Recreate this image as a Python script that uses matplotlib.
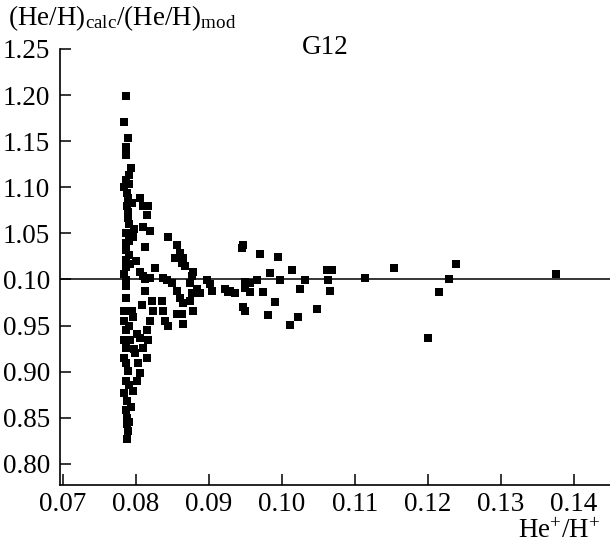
import matplotlib
matplotlib.use("Agg")
import matplotlib.pyplot as plt

plt.rcParams['font.family'] = ['Liberation Serif', 'DejaVu Serif']
plt.rcParams['mathtext.fontset'] = 'custom'
plt.rcParams['mathtext.rm'] = 'Liberation Serif'
plt.rcParams['mathtext.it'] = 'Liberation Serif:italic'

# He+/H+ values
x_vals = [
    0.0786, 0.0784, 0.0789, 0.0786, 0.0786, 0.0793, 0.0791, 0.0786, 0.0784,
    0.0789, 0.0788, 0.0789, 0.0789, 0.0805, 0.0810, 0.0816, 0.0815, 0.0810, 0.0819,
    0.0786, 0.0786, 0.0786, 0.0791, 0.0796, 0.0812, 0.0844,
    0.0856, 0.0860, 0.0854, 0.0863, 0.0867, 0.0878,
    0.0786, 0.0786, 0.0784, 0.0786, 0.0786,
    0.0805, 0.0810, 0.0819, 0.0826, 0.0837, 0.0843,
    0.0812, 0.0822, 0.0823, 0.0836, 0.0837, 0.0840, 0.0844,
    0.0849, 0.0856, 0.0860, 0.0864, 0.0874, 0.0877, 0.0884, 0.0874, 0.0878, 0.0856, 0.0864,
    0.0888, 0.0897, 0.0904, 0.0922, 0.0929, 0.0936,
    0.0945, 0.0947, 0.0970, 0.0950, 0.0956, 0.0966,
    0.0947, 0.0974, 0.0981, 0.0984,
    0.0786, 0.0784, 0.0784, 0.0786, 0.0784, 0.0786, 0.0784, 0.0786, 0.0789, 0.0786,
    0.0784, 0.0788, 0.0786, 0.0788, 0.0788, 0.0789, 0.0788,
    0.0795, 0.0796, 0.0801, 0.0792, 0.0805, 0.0815, 0.0819, 0.0816, 0.0810, 0.0799,
    0.0803, 0.0815, 0.0805, 0.0801, 0.0796,
    0.0864, 0.0877, 0.0995, 0.1014, 0.0998, 0.1032,
    0.1062, 0.1069, 0.1063, 0.1066, 0.1025, 0.0991, 0.1048, 0.1022, 0.1011,
    0.0950, 0.0950, 0.0956, 0.0926, 0.0902, 0.0863,
    0.1114, 0.1154, 0.1229, 0.1239, 0.1216, 0.1200, 0.1376,
    0.0790, 0.0788, 0.0795, 0.0790, 0.0798, 0.0790, 0.0792, 0.0800, 0.0812, 0.0808,
    0.0790, 0.0798, 0.0791, 0.0793, 0.0790,
]

# (He/H)calc/(He/H)mod values
y_vals = [
    1.199, 1.171, 1.153, 1.144, 1.135, 1.121, 1.113, 1.108, 1.100,
    1.088, 1.080, 1.073, 1.067, 1.088, 1.080, 1.080, 1.070, 1.057, 1.053,
    1.050, 1.039, 1.032, 1.042, 1.046, 1.035, 1.046,
    1.037, 1.029, 1.023, 1.018, 1.015, 1.008,
    1.021, 1.013, 1.006, 0.999, 0.993,
    1.008, 1.004, 1.002, 1.012, 1.002, 0.999,
    0.988, 0.977, 0.966, 0.977, 0.966, 0.955, 0.950,
    0.996, 0.988, 0.980, 0.974, 0.996, 0.985, 0.990, 0.977, 0.966, 0.963, 0.952,
    0.985, 0.999, 0.988, 0.990, 0.988, 0.985,
    1.034, 1.037, 1.028, 0.997, 0.996, 0.999,
    0.970, 0.986, 0.961, 1.007,
    0.980, 0.966, 0.955, 0.945, 0.934, 0.926, 0.915, 0.909, 0.901, 0.890,
    0.877, 0.868, 0.858, 0.850, 0.843, 0.836, 0.827,
    0.966, 0.959, 0.941, 0.934, 0.937, 0.945, 0.955, 0.934, 0.926, 0.920,
    0.909, 0.915, 0.898, 0.890, 0.879,
    1.023, 1.004, 1.024, 1.010, 0.999, 0.999,
    1.010, 1.010, 0.999, 0.988, 0.990, 0.976, 0.968, 0.959, 0.951,
    0.966, 0.991, 0.986, 0.986, 0.995, 0.963,
    1.002, 1.012, 1.000, 1.017, 0.986, 0.936, 1.006,
    1.104, 1.094, 1.083, 1.060, 1.055, 1.026, 1.017, 1.020, 1.000, 0.972,
    0.950, 0.925, 0.885, 0.862, 0.845,
]

x_ticks = [0.07, 0.08, 0.09, 0.10, 0.11, 0.12, 0.13, 0.14]
x_tick_labels = ["0.07", "0.08", "0.09", "0.10", "0.11", "0.12", "0.13", "0.14"]
y_ticks = [0.80, 0.85, 0.90, 0.95, 1.00, 1.05, 1.10, 1.15, 1.20, 1.25]
y_tick_labels = ["0.80", "0.85", "0.90", "0.95", "0.10", "1.05", "1.10", "1.15", "1.20", "1.25"]
ref_level = 1.0

fig = plt.figure(figsize=(6.1, 5.46), dpi=100)
ax = fig.add_axes([60/610, 61/546, 550/610, 436/546])

ax.axhline(ref_level, color='black', lw=1.1, zorder=1)
ax.plot(x_vals, y_vals, linestyle='none', marker='s', ms=5.8,
        color='black', markeredgewidth=0, zorder=2)

ax.set_xlim(0.0696, 0.1450)
ax.set_ylim(0.777, 1.25)
ax.set_xticks(x_ticks)
ax.set_xticklabels(x_tick_labels)
ax.set_yticks(y_ticks)
ax.set_yticklabels(y_tick_labels)

for s in ['top', 'right']:
    ax.spines[s].set_visible(False)
for s in ['left', 'bottom']:
    ax.spines[s].set_linewidth(1.2)

ax.tick_params(direction='in', length=8, width=1.1, labelsize=19.5)
ax.tick_params(axis='y', pad=7)
ax.tick_params(axis='x', pad=5)

fig.text(8/610, 1 - 25/546, r'(He/H)$_{\rm calc}$/(He/H)$_{\rm mod}$',
         fontsize=19.5, ha='left', va='baseline')
fig.text(600/610, 1 - 538/546, r'He$^{+}$/H$^{+}$',
         fontsize=19.5, ha='right', va='baseline')
fig.text(325/610, 1 - 54/546, 'G12', fontsize=19.5, ha='center', va='baseline')

fig.savefig('out.png', dpi=100)
